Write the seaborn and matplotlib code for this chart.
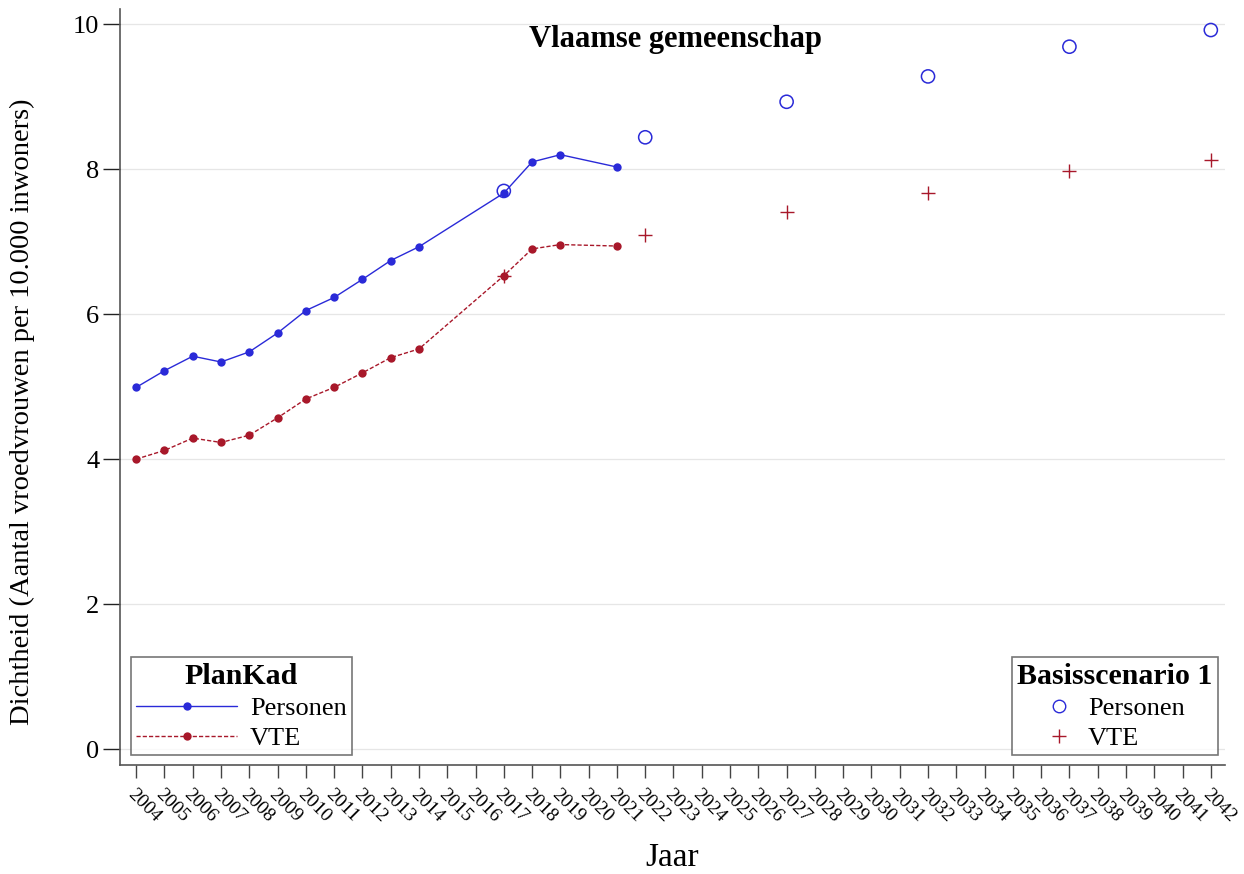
import matplotlib
matplotlib.use("Agg")
import matplotlib.pyplot as plt
import seaborn as sns
import pandas as pd
from matplotlib.lines import Line2D

# ---- data ----
plankad_years = [2004, 2005, 2006, 2007, 2008, 2009, 2010, 2011, 2012, 2013, 2014, 2017, 2018, 2019, 2021]
plankad_personen = [4.99, 5.22, 5.42, 5.34, 5.48, 5.74, 6.05, 6.23, 6.48, 6.74, 6.93, 7.67, 8.10, 8.20, 8.03]
plankad_vte = [4.00, 4.12, 4.29, 4.23, 4.33, 4.57, 4.83, 4.99, 5.19, 5.40, 5.52, 6.53, 6.90, 6.96, 6.94]

scen_years = [2017, 2022, 2027, 2032, 2037, 2042]
scen_personen = [7.70, 8.44, 8.93, 9.28, 9.69, 9.92]
scen_vte = [6.53, 7.09, 7.41, 7.67, 7.97, 8.12]

tick_years = list(range(2004, 2043))
y_ticks = [0, 2, 4, 6, 8, 10]

title = "Vlaamse gemeenschap"
xlabel = "Jaar"
ylabel = "Dichtheid (Aantal vroedvrouwen per 10.000 inwoners)"

BLUE = "#2a2ad8"
RED = "#a8182a"

sns.set_theme(style="white")
plt.rcParams['font.family'] = ['Liberation Serif', 'DejaVu Serif']
plt.rcParams['text.color'] = 'black'
plt.rcParams['axes.labelcolor'] = 'black'
plt.rcParams['xtick.color'] = 'black'
plt.rcParams['ytick.color'] = 'black'

fig = plt.figure(figsize=(12.44, 8.74), dpi=100)
ax = fig.add_axes([0.0965, 0.1247, 0.8882, 0.865])

df_pk = pd.DataFrame({"Jaar": plankad_years, "Personen": plankad_personen, "VTE": plankad_vte})
df_sc = pd.DataFrame({"Jaar": scen_years, "Personen": scen_personen, "VTE": scen_vte})

sns.lineplot(data=df_pk, x="Jaar", y="Personen", ax=ax, color=BLUE, lw=1.0,
             marker="o", markersize=6, markeredgewidth=0, markerfacecolor=BLUE, zorder=3)
sns.lineplot(data=df_pk, x="Jaar", y="VTE", ax=ax, color=RED, lw=1.0, linestyle=(0, (3, 1.5)),
             marker="o", markersize=6, markeredgewidth=0, markerfacecolor=RED, zorder=3)
ax.scatter(df_sc["Jaar"], df_sc["Personen"], s=90, facecolors="none", edgecolors=BLUE,
           linewidths=1.1, zorder=4)
ax.scatter(df_sc["Jaar"], df_sc["VTE"], s=90, marker="+", color=RED, linewidths=1.0, zorder=4)

ax.set_xlim(2003.43, 2042.5)
ax.set_ylim(-0.22, 10.21)
ax.set_yticks(y_ticks)
ax.set_yticklabels([str(v) for v in y_ticks], fontsize=19)
ax.set_xticks(tick_years)
ax.set_xticklabels([str(y) for y in tick_years], rotation=-45, ha="left", va="top",
                   rotation_mode="anchor", fontsize=14)
ax.grid(axis="y", color="#e6e6e6", lw=0.9)
ax.grid(axis="x", visible=False)
for s in ["top", "right"]:
    ax.spines[s].set_visible(False)
for s in ["left", "bottom"]:
    ax.spines[s].set_color("#555555")
    ax.spines[s].set_linewidth(1.2)
ax.tick_params(axis="y", direction="out", length=12, width=1.0, color="#222222", labelcolor="black", pad=3, left=True)
ax.tick_params(axis="x", direction="out", length=9, width=1.0, color="#444444", labelcolor="black", pad=6, bottom=True)

ax.set_xlabel(xlabel, fontsize=24, labelpad=12, color="black")
ax.set_ylabel(ylabel, fontsize=20.5, color="black")
ax.yaxis.set_label_coords(-0.077, 0.467)

ax.text(0.503, 0.96, title, transform=ax.transAxes, ha="center", va="center",
        fontsize=22, fontweight="bold", color="black")

h1 = [Line2D([], [], color=BLUE, lw=1.0, marker="o", markersize=6, markeredgewidth=0),
      Line2D([], [], color=RED, lw=1.0, linestyle=(0, (3, 1.5)), marker="o", markersize=6, markeredgewidth=0)]
leg1 = ax.legend(h1, ["Personen", "VTE"], title="PlanKad", loc="lower left",
                 bbox_to_anchor=(0.01, 0.013), fontsize=19, title_fontproperties={"weight": "bold", "size": 21.5},
                 frameon=True, fancybox=False, edgecolor="#555555", handlelength=3.8,
                 borderpad=0.2, labelspacing=0.25, handletextpad=0.5, borderaxespad=0, labelcolor="black")
leg1.get_frame().set_linewidth(1.2)
leg1.get_title().set_color("black")
ax.add_artist(leg1)

h2 = [Line2D([], [], color=BLUE, lw=0, marker="o", markersize=9, markerfacecolor="none", markeredgewidth=1.0),
      Line2D([], [], color=RED, lw=0, marker="+", markersize=10, markeredgewidth=1.0)]
leg2 = ax.legend(h2, ["Personen", "VTE"], title="Basisscenario 1", loc="lower right",
                 bbox_to_anchor=(0.9937, 0.013), fontsize=19, title_fontproperties={"weight": "bold", "size": 21.5},
                 frameon=True, fancybox=False, edgecolor="#555555", handlelength=1.0,
                 borderpad=0.2, labelspacing=0.25, handletextpad=0.6, borderaxespad=0, labelcolor="black")
leg2.get_frame().set_linewidth(1.2)
leg2.get_title().set_color("black")

fig.savefig("out.png", dpi=100)
